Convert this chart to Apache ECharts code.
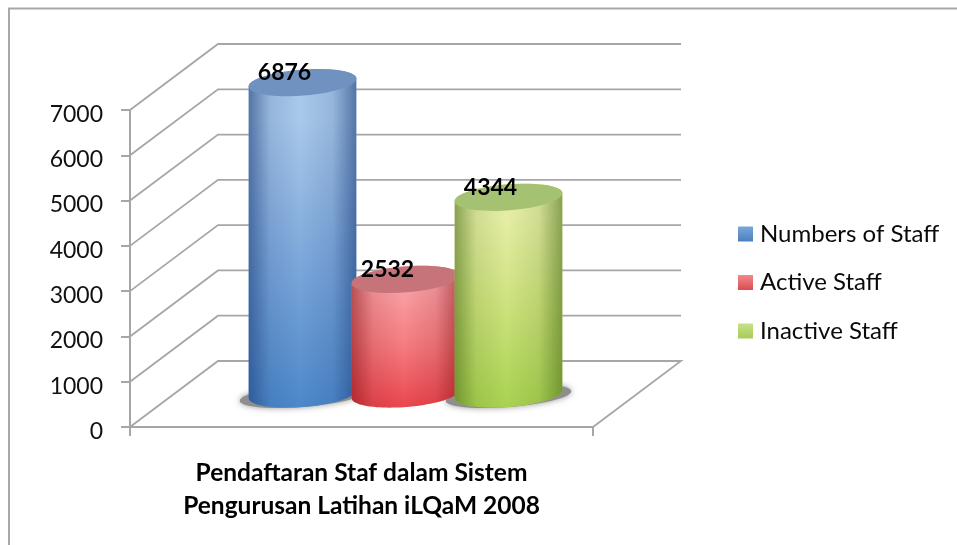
<!DOCTYPE html>
<html>
<head>
<meta charset="utf-8">
<style>html,body{margin:0;padding:0;background:#fff}#c{width:957px;height:545px;filter:blur(0.5px)}</style>
<script src="https://cdn.jsdelivr.net/npm/echarts@6/dist/echarts.min.js"></script>
</head>
<body>
<div id="c"></div>
<script>
const categories = ['Pendaftaran Staf dalam Sistem\nPengurusan Latihan iLQaM 2008'];
const yTicks = [0, 1000, 2000, 3000, 4000, 5000, 6000, 7000];
const numbersOfStaff = [6876];
const activeStaff = [2532];
const inactiveStaff = [4344];
const seriesNames = ['Numbers of Staff', 'Active Staff', 'Inactive Staff'];

const FONT = 'Lato';
const DEPTH_X = 88, DEPTH_Y = 66, STEP = 103, RX = 54, RY = 13, TILT = 4.5 * Math.PI / 180;
const LINE = '#a6a6a6';
const G = echarts.graphic;
const palette = [
  {top:'#7092c0', hi:'#a9c9ea', mid:'#7fa9dc', lo:'#4c88ca', edge:[30,65,125,0.62], legend:['#7ba6d8','#4a80c0']},
  {top:'#c6747a', hi:'#f9a3a8', mid:'#f67d82', lo:'#ea474d', edge:[130,15,20,0.55], legend:['#f08a8e','#dc4a4e']},
  {top:'#a5c272', hi:'#e6eea6', mid:'#cde27c', lo:'#a9d250', edge:[75,110,25,0.6], legend:['#c8e08a','#a4cc58']}
];
function rgba(c, a) { return 'rgba(' + c[0] + ',' + c[1] + ',' + c[2] + ',' + a + ')'; }

function ring(cx, cy, rx, ry, from, to) {
  const pts = [];
  const n = 48;
  for (let i = 0; i <= n; i++) {
    const t = from + (to - from) * i / n;
    const x = rx * Math.cos(t), y = ry * Math.sin(t);
    pts.push([cx + x * Math.cos(TILT) + y * Math.sin(TILT), cy - x * Math.sin(TILT) + y * Math.cos(TILT)]);
  }
  return pts;
}

function renderWalls(params, api) {
  const v = api.value(0);
  const sys = params.coordSys;
  const y = api.coord([0, v])[1];
  const left = sys.x, right = sys.x + sys.width;
  const pts = [[left, y], [left + DEPTH_X, y - DEPTH_Y], [right + DEPTH_X, y - DEPTH_Y]];
  if (v === 0) pts.push([right, y]);
  return {type:'polyline', shape:{points:pts}, style:{stroke:LINE, lineWidth:1.8, fill:null}, silent:true};
}

function renderShadow(params, api) {
  const i = api.value(0);
  const c = api.coord([0, 0]);
  const cx = c[0] + DEPTH_X / 2 + (i - 1) * STEP;
  const cy = c[1] - DEPTH_Y / 2 + 2;
  return {type:'polygon', shape:{points:ring(cx, cy, RX + 9, RY - 2, 0, Math.PI * 2)},
    style:{fill:'#8e8e8e', shadowBlur:6, shadowColor:'rgba(110,110,110,0.7)'}, silent:true};
}

function renderCylinder(idx) {
  return function (params, api) {
    const val = api.value(1);
    const p = palette[idx];
    const top = api.coord([0, val]);
    const base = api.coord([0, 0]);
    const cx = top[0] + DEPTH_X / 2 + (idx - 1) * STEP;
    const ty = top[1] - DEPTH_Y / 2;
    const by = base[1] - DEPTH_Y / 2;
    const body = ring(cx, by, RX, RY, Math.PI, 0)
      .concat(ring(cx, ty, RX, RY, 0, -Math.PI));
    return {
      type:'group',
      children:[
        {type:'polygon', shape:{points:body}, silent:true,
         style:{fill:new G.LinearGradient(0,0,0,1,[
           {offset:0,color:p.hi},{offset:0.15,color:p.hi},{offset:0.55,color:p.mid},{offset:1,color:p.lo}])}},
        {type:'polygon', shape:{points:body}, silent:true,
         style:{fill:new G.LinearGradient(0,0,1,0,[
           {offset:0,color:rgba(p.edge,p.edge[3])},{offset:0.2,color:rgba(p.edge,0.14)},
           {offset:0.48,color:rgba(p.edge,0)},
           {offset:0.78,color:rgba(p.edge,0.14)},{offset:1,color:rgba(p.edge,p.edge[3])}])}},
        {type:'polygon', shape:{points:ring(cx, ty, RX, RY, 0, Math.PI * 2)}, silent:true,
         style:{fill:p.top}},
        {type:'text', silent:true, x:cx - 18, y:ty - 10,
         style:{text:String(val), fill:'#000', font:'bold 23px ' + FONT, align:'center', verticalAlign:'middle'}}
      ]
    };
  };
}

const valueLists = [numbersOfStaff, activeStaff, inactiveStaff];

const chart = echarts.init(document.getElementById('c'), null, {renderer:'canvas'});
chart.setOption({
  animation:false,
  backgroundColor:'#fff',
  graphic:[{type:'polyline', silent:true, shape:{points:[[9,546],[9,8.5],[958,8.5]]},
            style:{stroke:'#a8a8a8', lineWidth:2, fill:null}}],
  grid:{left:130, top:110, width:463, height:317, containLabel:false},
  xAxis:{type:'category', data:categories,
    axisLine:{show:true, lineStyle:{color:LINE, width:2}},
    axisTick:{show:true, length:9, lineStyle:{color:LINE, width:2}},
    axisLabel:{fontFamily:FONT, fontWeight:'bold', fontSize:24.5, color:'#000', lineHeight:33, margin:29.5, interval:0}},
  yAxis:{type:'value', min:0, max:7000, interval:1000,
    axisLine:{show:true, lineStyle:{color:LINE, width:2}},
    axisTick:{show:true, length:9, lineStyle:{color:LINE, width:2}},
    splitLine:{show:false},
    axisLabel:{fontFamily:FONT, fontSize:23, color:'#111', margin:27, padding:[0,0,0,0], verticalAlign:'middle', lineHeight:23,
      rich:{}, formatter:v=>String(v), offset:0, padding:[9,0,0,0]}},
  legend:{orient:'vertical', left:738, top:222, padding:0, itemWidth:15, itemHeight:15, itemGap:24.5,
    icon:'rect', textStyle:{fontFamily:FONT, fontSize:24, color:'#0a0a0a', padding:[5,0,0,2]},
    selectedMode:false,
    data:seriesNames.map((n,i)=>({name:n, itemStyle:{color:new G.LinearGradient(0,0,0,1,[
      {offset:0,color:palette[i].legend[0]},{offset:1,color:palette[i].legend[1]}])}}))},
  series:[
    {type:'custom', name:'walls', renderItem:renderWalls, data:yTicks.map(t=>[t]), encode:{y:0}, z:1},
    {type:'custom', name:'shadow', renderItem:renderShadow, data:[[0],[2]], encode:{x:0}, z:2}
  ].concat(seriesNames.map((n,i)=>({
    type:'custom', name:n, renderItem:renderCylinder(i), z:3+i,
    itemStyle:{color:palette[i].lo},
    data:valueLists[i].map((v,k)=>[k,v]), encode:{x:0,y:1}
  })))
});
</script>
</body>
</html>
